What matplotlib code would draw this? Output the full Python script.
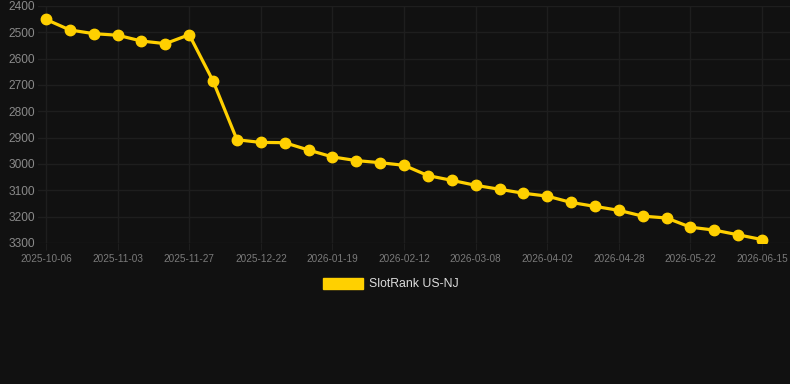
import matplotlib as mpl
mpl.use("Agg")
import matplotlib.pyplot as plt
from matplotlib.patches import Patch

dates = ["2025-10-06", "2025-10-15", "2025-10-24", "2025-11-03", "2025-11-11",
         "2025-11-19", "2025-11-27", "2025-12-05", "2025-12-13", "2025-12-22",
         "2025-12-31", "2026-01-09", "2026-01-19", "2026-01-27", "2026-02-04",
         "2026-02-12", "2026-02-20", "2026-02-28", "2026-03-08", "2026-03-16",
         "2026-03-24", "2026-04-02", "2026-04-10", "2026-04-19", "2026-04-28",
         "2026-05-06", "2026-05-14", "2026-05-22", "2026-05-30", "2026-06-07",
         "2026-06-15"]
rank = [2451, 2491, 2505, 2511, 2533, 2543, 2509, 2685, 2908, 2918,
        2919, 2947, 2973, 2987, 2995, 3005, 3044, 3062, 3081, 3096,
        3111, 3122, 3146, 3161, 3176, 3198, 3205, 3240, 3251, 3269,
        3287]
series_name = "SlotRank US-NJ"
yticks = [2400, 2500, 2600, 2700, 2800, 2900, 3000, 3100, 3200, 3300]

bg = "#111111"
grid = "#1e1e1e"
gold = "#ffd000"

plt.rcParams['font.family'] = ['Liberation Sans', 'DejaVu Sans']

fig = plt.figure(figsize=(7.9, 3.84), dpi=100, facecolor=bg)
ax = fig.add_axes([38/790, 1 - 243/384, 752/790, 237/384])
ax.set_facecolor(bg)

x = list(range(len(dates)))
ax.plot(x, rank, color=gold, lw=2.3, marker='o', ms=7.5, mfc=gold, mec=gold, zorder=3)

ax.set_ylim(3300, 2400)
ax.set_yticks(yticks)
ax.set_yticklabels([str(v) for v in yticks])
ax.set_xlim(-0.335, 31.17)
tick_idx = x[::3]
ax.set_xticks(tick_idx)
ax.set_xticklabels([dates[i] for i in tick_idx])

ax.grid(True, color=grid, lw=1)
ax.set_axisbelow(True)
for s in ax.spines.values():
    s.set_visible(False)
ax.tick_params(axis='y', length=0, pad=2, labelsize=8.6, labelcolor='#8a8a8a')
ax.tick_params(axis='x', length=5, color=grid, pad=3, labelsize=7.2, labelcolor='#7a7a7a')

handle = Patch(facecolor=gold, edgecolor=gold)
leg = fig.legend([handle], [series_name], loc='center', bbox_to_anchor=(391/790, 1 - 284/384),
                 frameon=False, fontsize=8.8, labelcolor='#dddddd',
                 handlelength=3.3, handleheight=1.0, handletextpad=0.5)

fig.savefig("out.png", dpi=100, facecolor=bg)
